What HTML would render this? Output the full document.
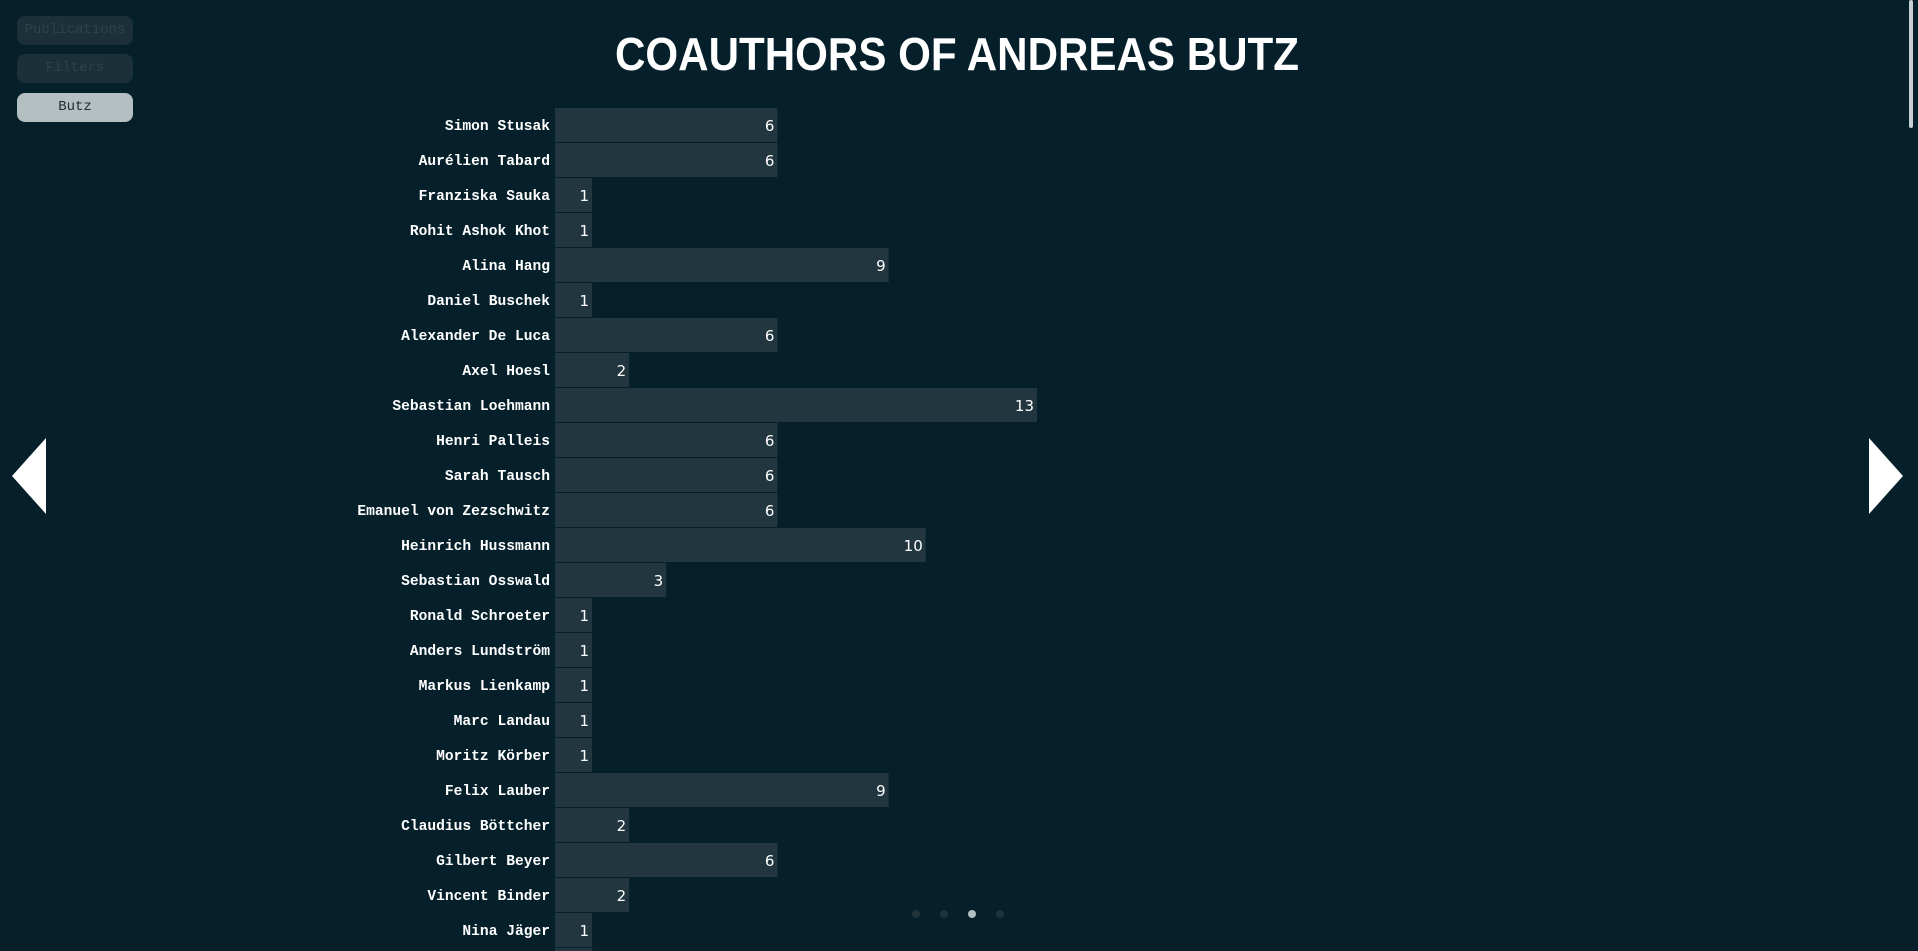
<!DOCTYPE html>
<html><head><meta charset="utf-8">
<style>
html,body{margin:0;padding:0;background:#05202a;width:1918px;height:951px;overflow:hidden;}
.btn{position:absolute;left:17px;width:116px;height:29px;border-radius:8px;font:14px "Liberation Mono",monospace;text-align:center;line-height:29px;}
.btn.off{background:#1b3038;color:#2c434b;}
.btn.on{background:#b4bfc2;color:#1b2b31;top:93px;}
</style></head><body>
<div class="btn off" style="top:16px">Publications</div>
<div class="btn off" style="top:54px">Filters</div>
<div class="btn on">Butz</div>
<svg id="chart" width="1918" height="951" style="position:absolute;left:0;top:0">
<text x="957" y="70" text-anchor="middle" fill="#ffffff" font-family="Liberation Sans, sans-serif" font-weight="bold" font-size="46" textLength="684" lengthAdjust="spacingAndGlyphs">COAUTHORS OF ANDREAS BUTZ</text>
<polygon points="46,438 46,514 12,476" fill="#ffffff"/>
<polygon points="1869,438 1869,514 1903,476" fill="#ffffff"/>
<rect x="1909" y="0" width="4" height="128" rx="2" fill="#c8cfd2"/>
<g id="bars"></g>
<g id="dots"></g>
</svg>
<script>
const names=["Simon Stusak","Aurélien Tabard","Franziska Sauka","Rohit Ashok Khot","Alina Hang","Daniel Buschek","Alexander De Luca","Axel Hoesl","Sebastian Loehmann","Henri Palleis","Sarah Tausch","Emanuel von Zezschwitz","Heinrich Hussmann","Sebastian Osswald","Ronald Schroeter","Anders Lundström","Markus Lienkamp","Marc Landau","Moritz Körber","Felix Lauber","Claudius Böttcher","Gilbert Beyer","Vincent Binder","Nina Jäger","Bastian Pfleging"];
const counts=[6,6,1,1,9,1,6,2,13,6,6,6,10,3,1,1,1,1,1,9,2,6,2,1,1];
const ns="http://www.w3.org/2000/svg";
const x0=555, unit=482/13, rowTop=108, pitch=35, bh=34;
const xs=v=>v*unit;
const ys=i=>rowTop+i*pitch;
const g=document.getElementById('bars');
names.forEach((n,i)=>{
  const y=ys(i);
  const r=document.createElementNS(ns,'rect');
  r.setAttribute('x',x0);r.setAttribute('y',y);r.setAttribute('width',xs(counts[i]));r.setAttribute('height',bh);r.setAttribute('fill','#21363e');
  
  
  g.appendChild(r);
  const l=document.createElementNS(ns,'text');
  l.setAttribute('x',550);l.setAttribute('y',y+bh/2+5);l.setAttribute('text-anchor','end');l.setAttribute('fill','#ffffff');
  l.setAttribute('font-family','Liberation Mono, monospace');l.setAttribute('font-weight','bold');l.setAttribute('font-size','14.6');
  l.textContent=n;
  
  
  g.appendChild(l);
  const v=document.createElementNS(ns,'text');
  v.setAttribute('x',x0+xs(counts[i])-3);v.setAttribute('y',y+bh/2+6);v.setAttribute('text-anchor','end');v.setAttribute('fill','#ffffff');
  v.setAttribute('font-family','DejaVu Sans, sans-serif');v.setAttribute('font-size','15');
  v.textContent=counts[i];
  
  
  g.appendChild(v);
});
const dg=document.getElementById('dots');
[916,944,972,1000].forEach((cx,i)=>{
  const c=document.createElementNS(ns,'circle');
  c.setAttribute('cx',cx);c.setAttribute('cy',914);c.setAttribute('r',4);c.setAttribute('fill',i===2?'#b4bfc2':'#1f333b');
  
  
  dg.appendChild(c);
});
</script>
</body></html>
